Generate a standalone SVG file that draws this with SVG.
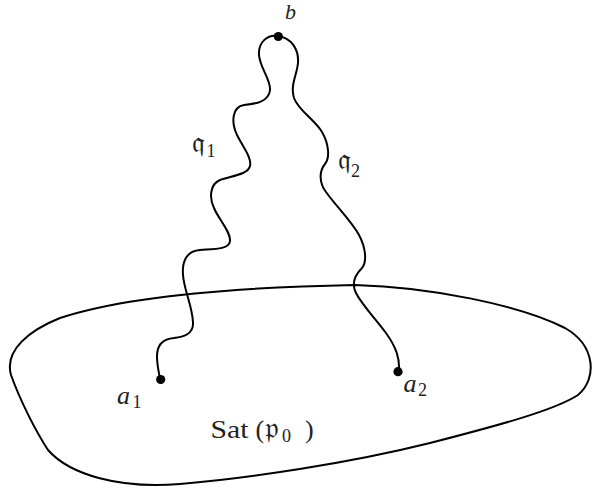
<svg xmlns="http://www.w3.org/2000/svg" width="593" height="490" viewBox="0 0 593 490">
<style>
.ln{fill:none;stroke:#000;stroke-width:2;stroke-linecap:round;stroke-linejoin:round}
.dot{fill:#000}
text{fill:#222;font-family:"Liberation Serif","Times New Roman",serif}
.it{font-style:italic}
.fk{font-family:"DejaVu Serif","Liberation Serif",serif}
</style>
<rect width="593" height="490" fill="#fff"/>
<g id="region">
<path class="ln" d="M 355 285 C 430 287, 520 305, 565 328 C 595 345, 598 378, 578 395 C 555 410, 500 425, 430 443 C 350 463, 250 478, 180 484 C 120 489, 70 475, 48 450 C 35 430, 20 400, 11 375 C 4 350, 30 330, 60 318 C 130 295, 250 287, 355 285 Z"/>
<text x="210.5" y="438" font-size="26" textLength="38" lengthAdjust="spacingAndGlyphs">Sat</text>
<text x="255.5" y="438" font-size="26">(</text>
<text class="fk" x="264.5" y="438" font-size="30">𝔭</text>
<text x="282" y="442" font-size="18">0</text>
<text x="305" y="438" font-size="26">)</text>
</g>
<g id="connectors">
<path id="q1" class="ln" d="M 278 36 C 268 34, 258 42, 259 55 C 260 68, 271 80, 270 90 C 269 102, 255 104, 244 105 C 232 107, 231 122, 237 135 C 243 147, 252 158, 250 166 C 248 175, 230 176, 220 180 C 210 184, 209 198, 214 208 C 219 220, 231 232, 230 241 C 229 250, 212 249, 200 250 C 186 251, 182 262, 183 275 C 184 290, 192 305, 193 322 C 194 335, 182 337, 174 338 C 163 339, 157 345, 157 356 C 157 366, 159 372, 160 379"/>
<path id="q2" class="ln" d="M 278 36 C 292 38, 299 50, 298 63 C 297 75, 290 85, 294 98 C 298 110, 315 120, 322 132 C 329 144, 330 158, 325 164 C 319 171, 319 183, 326 192 C 336 206, 352 222, 359 235 C 366 248, 367 262, 362 268 C 355 275, 351 283, 356 293 C 362 305, 375 318, 386 333 C 396 347, 400 358, 399 372"/>
<text class="fk" x="192" y="152" font-size="29">𝔮</text>
<text x="206.5" y="157" font-size="18">1</text>
<text class="fk" x="338" y="169" font-size="29">𝔮</text>
<text x="351" y="177" font-size="18">2</text>
</g>
<g id="b">
<circle class="dot" cx="278.3" cy="36.5" r="4.6"/>
<text class="it" x="285" y="19" font-size="22">b</text>
</g>
<g id="a1">
<circle class="dot" cx="160.7" cy="379.5" r="4.6"/>
<text class="it" x="117" y="404" font-size="26">a</text>
<text x="132.5" y="407.5" font-size="18">1</text>
</g>
<g id="a2">
<circle class="dot" cx="398" cy="371.7" r="4.6"/>
<text class="it" x="403.5" y="392" font-size="26">a</text>
<text x="418" y="395.5" font-size="18">2</text>
</g>
</svg>
